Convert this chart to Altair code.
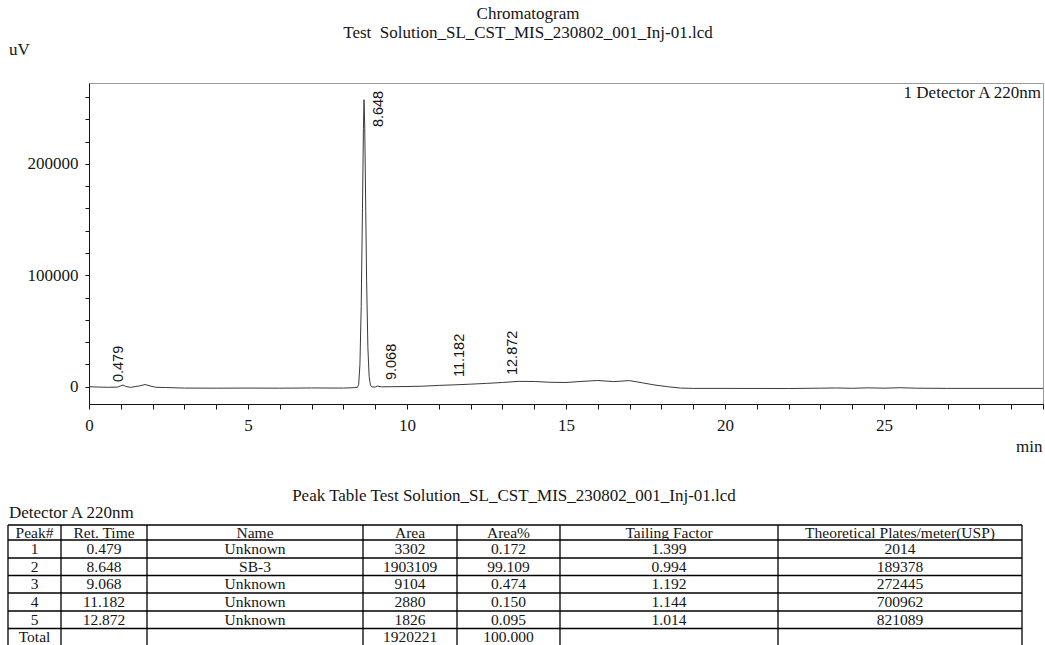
import altair as alt
import pandas as pd

# ---- chromatogram trace: retention time (min) and detector signal (uV) ----
trace_time = [0.0, 0.3, 0.6, 0.9, 1.0, 1.07, 1.15, 1.3, 1.6, 1.76, 1.95, 2.1, 2.4,
              3.0, 4.0, 5.0, 6.0, 7.0, 8.0, 8.3, 8.44, 8.48, 8.52, 8.56, 8.60, 8.63,
              8.648, 8.67, 8.70, 8.73, 8.77, 8.81, 8.85, 8.90, 9.0, 9.068, 9.2, 9.5,
              10.0, 10.5, 11.0, 11.5, 12.0, 12.5, 13.0, 13.5, 14.0, 14.5, 15.0, 15.5,
              16.0, 16.5, 17.0, 17.4, 17.8, 18.2, 18.6, 19.0, 20.0, 22.0, 23.0, 23.5,
              24.0, 24.5, 25.0, 25.5, 26.0, 27.0, 30.0]
trace_uv = [0, -300, -500, -300, 800, 1500, 300, -600, 800, 2000, 500, -500, -700,
            -1200, -1300, -1200, -1300, -1100, -1200, -900, -600, 2000, 20000, 72000,
            160000, 232000, 257600, 235000, 165000, 95000, 35000, 9000, 1500, -200,
            -300, 600, -100, 0, 200, 500, 1200, 1700, 2300, 3000, 3800, 4800, 4700,
            4000, 3800, 4800, 5600, 4600, 5500, 3500, 1500, 0, -1200, -1500, -1500,
            -1600, -1300, -1100, -1400, -1000, -1300, -900, -1300, -1500, -1500]

# ---- integrated peaks ----
peak_no = ["1", "2", "3", "4", "5"]
peak_rt = [0.479, 8.648, 9.068, 11.182, 12.872]
peak_label_level = [4200, 233000, 6000, 8700, 10500]
peak_name = ["Unknown", "SB-3", "Unknown", "Unknown", "Unknown"]
peak_area = [3302, 1903109, 9104, 2880, 1826]
peak_area_pct = ["0.172", "99.109", "0.474", "0.150", "0.095"]
peak_tailing = ["1.399", "0.994", "1.192", "1.144", "1.014"]
peak_plates = [2014, 189378, 272445, 700962, 821089]
total_area = 1920221
total_area_pct = "100.000"
table_headers = ["Peak#", "Ret. Time", "Name", "Area", "Area%",
                 "Tailing Factor", "Theoretical Plates/meter(USP)"]

x_tick_values = list(range(0, 31))
y_tick_values = list(range(0, 260001, 20000))

# ---- layout ----
W, H = 954, 321
PAD_L, PAD_T, PAD_R, PAD_B = 89, 83, 2, 241
SERIF = "Liberation Serif"
SANS = "Liberation Sans"
INK = "#151515"

# table geometry in page pixels
col_edges = [8, 61, 147, 363, 457, 560, 778, 1022]
row_edges = [525, 540, 558, 575.5, 593, 611, 628.5, 646]

# ---- chromatogram ----
trace_df = pd.DataFrame({"t": trace_time, "uv": trace_uv})
label_df = pd.DataFrame({"rt": peak_rt, "level": peak_label_level,
                         "label": [f"{v:.3f}" for v in peak_rt]})

xs = alt.Scale(domain=[0, 30], nice=False, zero=False)
ys = alt.Scale(domain=[-15500, 272600], nice=False, zero=False)

x_axis = alt.Axis(values=x_tick_values,
                  labelExpr="datum.value % 5 === 0 && datum.value < 30 ? datum.label : ''",
                  labelOverlap=False, labelFlush=False, tickSize=5, labelPadding=8,
                  grid=False, title="min", titleX=W - 1, titleY=42, titleAlign="right",
                  titleBaseline="middle", titleAngle=0)
y_axis = alt.Axis(values=y_tick_values,
                  labelExpr="datum.value % 100000 === 0 ? datum.label : ''",
                  labelOverlap=False, labelFlush=False, format="d", tickSize=4,
                  labelPadding=7, grid=False,
                  title="uV", titleX=-70, titleY=-34, titleAlign="center",
                  titleBaseline="middle", titleAngle=0)

line = alt.Chart(trace_df).mark_line(color="#3a3a3a", strokeWidth=1).encode(
    x=alt.X("t:Q", scale=xs, axis=x_axis),
    y=alt.Y("uv:Q", scale=ys, axis=y_axis),
)

labels = alt.Chart(label_df).mark_text(
    angle=270, align="left", baseline="middle", dy=15,
    font=SANS, fontSize=14.5, color=INK,
).encode(x=alt.X("rt:Q", scale=xs, axis=x_axis),
         y=alt.Y("level:Q", scale=ys, axis=y_axis),
         text="label:N")

detector_df = pd.DataFrame({"text": ["1 Detector A 220nm"]})
detector = alt.Chart(detector_df).mark_text(
    align="right", baseline="middle", font=SERIF, fontSize=17, color=INK,
).encode(x=alt.value(W - 2), y=alt.value(10), text="text:N")

chrom = alt.layer(line, labels, detector)

# ---- peak table ----
rows = [table_headers]
for i in range(len(peak_no)):
    rows.append([peak_no[i], f"{peak_rt[i]:.3f}", peak_name[i], str(peak_area[i]),
                 peak_area_pct[i], peak_tailing[i], str(peak_plates[i])])
rows.append(["Total", "", "", str(total_area), total_area_pct, "", ""])

cells = []
for r, row in enumerate(rows):
    for c, txt in enumerate(row):
        if txt:
            cells.append({"text": txt,
                          "xc": (col_edges[c] + col_edges[c + 1]) / 2,
                          "yc": (row_edges[r] + row_edges[r + 1]) / 2})
cells_df = pd.DataFrame(cells)

lines = []
for y in row_edges:
    lines.append({"x": col_edges[0], "x2": col_edges[-1], "y": y, "y2": y})
for x in col_edges:
    lines.append({"x": x, "x2": x, "y": row_edges[0], "y2": row_edges[-1]})
lines_df = pd.DataFrame(lines)

tx = alt.Scale(domain=[0, 1045], range=[-PAD_L, 1045 - PAD_L], nice=False, zero=False)
ty = alt.Scale(domain=[0, 645], range=[-PAD_T, 645 - PAD_T], nice=False, zero=False)

grid = alt.Chart(lines_df).mark_rule(color="#000000", strokeWidth=1.3).encode(
    x=alt.X("x:Q", scale=tx, axis=None), x2="x2:Q",
    y=alt.Y("y:Q", scale=ty, axis=None), y2="y2:Q",
)
cell_text = alt.Chart(cells_df).mark_text(
    align="center", baseline="middle", font=SERIF, fontSize=15.5, color=INK,
).encode(x=alt.X("xc:Q", scale=tx, axis=None), y=alt.Y("yc:Q", scale=ty, axis=None),
         text="text:N")

heading_df = pd.DataFrame({"text": ["Peak Table Test Solution_SL_CST_MIS_230802_001_Inj-01.lcd"],
                           "x": [514], "y": [496]})
sub_df = pd.DataFrame({"text": ["Detector A 220nm"], "x": [9], "y": [513]})
heading = alt.Chart(heading_df).mark_text(
    align="center", baseline="middle", font=SERIF, fontSize=17, color=INK,
).encode(x=alt.X("x:Q", scale=tx, axis=None), y=alt.Y("y:Q", scale=ty, axis=None),
         text="text:N")
sub = alt.Chart(sub_df).mark_text(
    align="left", baseline="middle", font=SERIF, fontSize=17, color=INK,
).encode(x=alt.X("x:Q", scale=tx, axis=None), y=alt.Y("y:Q", scale=ty, axis=None),
         text="text:N")

table = alt.layer(grid, cell_text, heading, sub)

chart = alt.layer(chrom, table).resolve_scale(
    x="independent", y="independent"
).properties(
    width=W, height=H,
    title=alt.TitleParams(
        text=["Chromatogram", "Test\u00a0 Solution_SL_CST_MIS_230802_001_Inj-01.lcd"],
        font=SERIF, fontSize=17, fontWeight="normal", color=INK,
        anchor="middle", dx=-38, dy=8, offset=6, lineHeight=19,
    ),
    autosize=alt.AutoSizeParams(type="none"),
    padding={"left": PAD_L, "top": PAD_T, "right": PAD_R, "bottom": PAD_B},
).configure_view(
    stroke="#9a9a9a", strokeWidth=1
).configure_axis(
    labelFont=SERIF, labelFontSize=17, labelColor=INK, labelOverlap=False,
    titleFont=SERIF, titleFontSize=17, titleFontWeight="normal", titleColor=INK,
    domainColor=INK, tickColor=INK, domainWidth=1, tickWidth=1,
)

chart.save("out.html", embed_options={"renderer": "svg", "actions": False})
